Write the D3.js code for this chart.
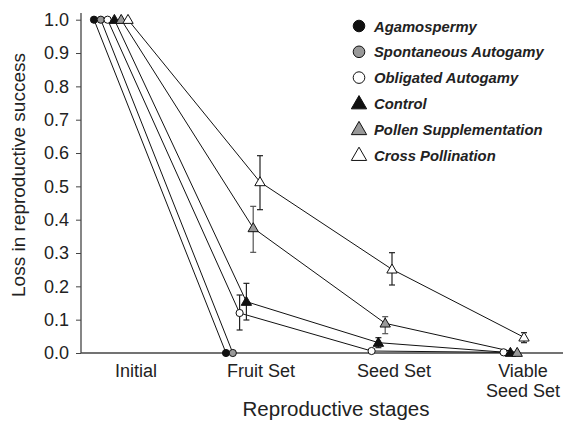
<!DOCTYPE html>
<html>
<head>
<meta charset="utf-8">
<script src="https://cdn.jsdelivr.net/npm/d3@7.9.0/dist/d3.min.js"></script>
<style>
  body { margin: 0; background: #fff; }
  svg { display: block; font-family: 'Liberation Sans', Arial, sans-serif; }
</style>
</head>
<body>
<svg id="chart" width="563" height="425"></svg>
<script>
// stages on the x axis
const stages = ['Initial', 'Fruit Set', 'Seed Set', 'Viable Seed Set'];
const seriesNames = ['Agamospermy', 'Spontaneous Autogamy', 'Obligated Autogamy',
  'Control', 'Pollen Supplementation', 'Cross Pollination'];

// loss values per series (null = not plotted)
const agamospermy = [1.0, 0.0, null, null];
const spontaneous = [1.0, 0.0, null, null];
const obligated = [1.0, 0.12, 0.006, 0.002];
const control = [1.0, 0.154, 0.031, 0.001];
const pollenSupp = [1.0, 0.375, 0.089, 0.001];
const crossPoll = [1.0, 0.513, 0.251, 0.047];

// error bar ends [low, high] (null = none)
const obligatedErr = [null, [0.069, 0.174], null, null];
const controlErr = [null, [0.099, 0.209], [0.016, 0.046], null];
const pollenErr = [null, [0.302, 0.44], [0.058, 0.109], null];
const crossErr = [null, [0.43, 0.592], [0.204, 0.301], [0.031, 0.061]];

const yTicks = [0, 0.1, 0.2, 0.3, 0.4, 0.5, 0.6, 0.7, 0.8, 0.9, 1.0];

const series = [
  { name: seriesNames[0], values: agamospermy, err: null, shape: 'circle', fill: '#111' },
  { name: seriesNames[1], values: spontaneous, err: null, shape: 'circle', fill: '#999' },
  { name: seriesNames[2], values: obligated, err: obligatedErr, shape: 'circle', fill: '#fff' },
  { name: seriesNames[3], values: control, err: controlErr, shape: 'triangle', fill: '#111' },
  { name: seriesNames[4], values: pollenSupp, err: pollenErr, shape: 'triangle', fill: '#999' },
  { name: seriesNames[5], values: crossPoll, err: crossErr, shape: 'triangle', fill: '#fff' }
];

const svg = d3.select('#chart');

const x = d3.scalePoint().domain(stages).range([94, 490]);
const dodge = d3.scalePoint().domain(seriesNames).range([0, 34]);
const y = d3.scaleLinear().domain([0, 1]).range([353, 19.7]);

// y axis
const yAxis = svg.append('g')
  .attr('transform', 'translate(81,0)')
  .call(d3.axisLeft(y).tickValues(yTicks).tickFormat(d3.format('.1f')).tickSize(5).tickSizeOuter(0));
yAxis.select('.domain').attr('stroke', '#444').attr('stroke-width', 1.3).attr('d', 'M0,13V353');
yAxis.selectAll('.tick line').attr('stroke', '#444');
yAxis.selectAll('.tick text')
  .attr('font-size', 18).attr('fill', '#222').attr('x', -12).attr('font-family', 'Liberation Sans, Arial, sans-serif');

// x axis baseline
svg.append('line')
  .attr('x1', 81).attr('x2', 563)
  .attr('y1', y(0)).attr('y2', y(0))
  .attr('stroke', '#444').attr('stroke-width', 1.3);

// category labels
stages.forEach((s, i) => {
  const cx = x(s) + [42, 35, 36, 37][i];
  const t = svg.append('text')
    .attr('x', cx).attr('y', 377)
    .attr('text-anchor', 'middle')
    .attr('font-size', 18).attr('fill', '#222');
  if (s === 'Viable Seed Set') {
    t.append('tspan').attr('x', cx).attr('dx', -4).text('Viable');
    t.append('tspan').attr('x', cx).attr('dx', -4).attr('dy', 20).text('Seed Set');
  } else {
    t.text(s);
  }
});

// axis titles
svg.append('text')
  .attr('x', 336).attr('y', 416)
  .attr('text-anchor', 'middle')
  .attr('font-size', 20.5).attr('fill', '#222')
  .text('Reproductive stages');
svg.append('text')
  .attr('transform', 'translate(25,175) rotate(-90)')
  .attr('text-anchor', 'middle')
  .attr('font-size', 19).attr('fill', '#222')
  .text('Loss in reproductive success');

const triangle = d3.symbol().type(d3.symbolTriangle);

function drawMarker(g, shape, fill, cx, cy, size) {
  if (shape === 'circle') {
    g.append('circle')
      .attr('cx', cx).attr('cy', cy).attr('r', size)
      .attr('fill', fill).attr('stroke', '#111').attr('stroke-width', 1);
  } else {
    g.append('path')
      .attr('d', triangle.size(size * size * 2.2)())
      .attr('transform', `translate(${cx},${cy + size * 0.15})`)
      .attr('fill', fill).attr('stroke', '#111').attr('stroke-width', 1);
  }
}

const plot = svg.append('g');

// lines
series.forEach((s) => {
  const pts = s.values
    .map((v, i) => (v === null ? null : [x(stages[i]) + dodge(s.name), y(v)]))
    .filter((p) => p !== null);
  plot.append('path')
    .attr('d', d3.line()(pts))
    .attr('fill', 'none')
    .attr('stroke', '#111')
    .attr('stroke-width', 1);
});

// error bars
series.forEach((s) => {
  if (!s.err) return;
  s.err.forEach((e, i) => {
    if (!e) return;
    const cx = x(stages[i]) + dodge(s.name);
    const col = s.fill === '#999' ? '#555' : '#222';
    const g = plot.append('g').attr('stroke', col).attr('stroke-width', 1.2);
    g.append('line').attr('x1', cx).attr('x2', cx).attr('y1', y(e[0])).attr('y2', y(e[1]));
    g.append('line').attr('x1', cx - 3).attr('x2', cx + 3).attr('y1', y(e[0])).attr('y2', y(e[0]));
    g.append('line').attr('x1', cx - 3).attr('x2', cx + 3).attr('y1', y(e[1])).attr('y2', y(e[1]));
  });
});

// markers
series.forEach((s) => {
  s.values.forEach((v, i) => {
    if (v === null) return;
    const size = s.shape === 'circle' ? 3.6 : 4.6;
    drawMarker(plot, s.shape, s.fill, x(stages[i]) + dodge(s.name), y(v), size);
  });
});

// legend
const legend = svg.append('g');
series.forEach((s, i) => {
  const ly = 26 + i * 25.8;
  drawMarker(legend, s.shape, s.fill, 359, ly, s.shape === 'circle' ? 5.8 : 6.8);
  legend.append('text')
    .attr('x', 374).attr('y', ly + 5.5)
    .attr('font-size', 14.8)
    .attr('font-weight', 'bold')
    .attr('font-style', 'italic')
    .attr('fill', '#222')
    .text(s.name);
});
</script>
</body>
</html>
